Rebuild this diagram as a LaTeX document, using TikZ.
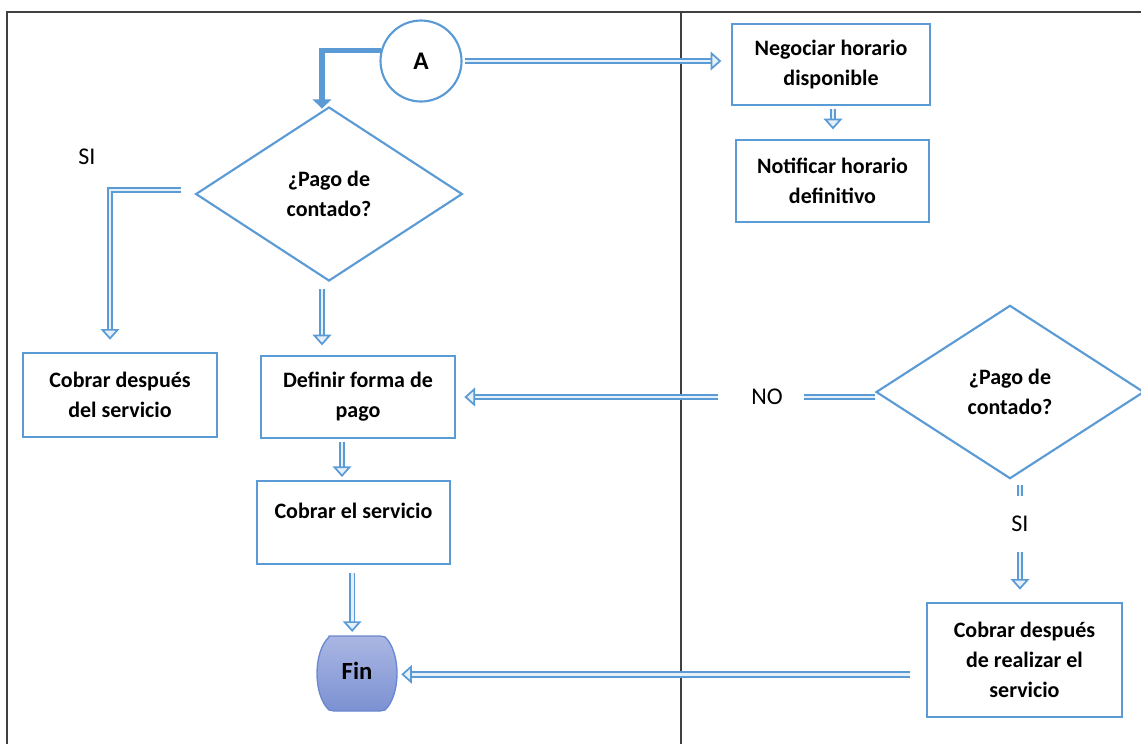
\documentclass[tikz,border=0pt]{standalone}
\usepackage{fontspec}
\setmainfont{Carlito}
\usetikzlibrary{arrows.meta,shapes.geometric}
\definecolor{lb}{HTML}{5B9BD5}
\definecolor{frame}{HTML}{404040}
\definecolor{fintop}{HTML}{AAB7E3}
\definecolor{finbot}{HTML}{7C91D3}
\definecolor{finedge}{HTML}{6A88D0}
\begin{document}
\begin{tikzpicture}[x=0.75pt,y=-0.75pt,
  every node/.style={font=\fontsize{16.5}{22.5}\selectfont},
  procbox/.style={draw=lb, line width=2pt, rectangle, align=center, font=\bfseries\fontsize{16.5}{22.5}\selectfont, inner sep=0pt},
  decis/.style={draw=lb, line width=1.6pt, diamond, align=center, inner sep=0pt, font=\bfseries\fontsize{16.5}{22.5}\selectfont},
  hollow/.style={draw=lb, line width=1.35pt, double=lb!15, double distance=2.1pt},
  harrow/.style={hollow, -{Triangle[length=8pt, width=14pt, fill=lb!15, line width=1.3pt]}},
  lbl/.style={font=\fontsize{18}{20}\selectfont, inner sep=1pt}
]
\useasboundingbox (0,0) rectangle (1141,744);
% frame
\draw[frame, line width=1.5pt] (7,744) -- (7,12) -- (1141,12);
\draw[frame, line width=1.1pt] (681,12) -- (681,744);

% nodes
\node[draw=lb, line width=1.6pt, circle, minimum size=60.75pt, inner sep=0pt, font=\bfseries\fontsize{19}{20}\selectfont] (A) at (421,61) {A};
\node[procbox, minimum width=148.5pt, minimum height=60.75pt] (neg) at (831,64.5) {Negociar horario\\disponible};
\node[procbox, minimum width=144.75pt, minimum height=61.5pt] (notif) at (832.5,181) {Notificar horario\\definitivo};
\node[decis, minimum width=200pt, minimum height=130.5pt] (d1) at (329,194) {¿Pago de\\contado?};
\node[procbox, minimum width=145.5pt, minimum height=63pt] (cdes) at (120,395) {Cobrar después\\del servicio};
\node[procbox, minimum width=145.5pt, minimum height=61.5pt] (def) at (358,397) {Definir forma de\\pago};
\node[procbox, minimum width=144.75pt, minimum height=62.25pt] (cob) at (353.5,522.5) {Cobrar el servicio\\[-11pt]\strut};
\node[decis, minimum width=201pt, minimum height=130pt] (d2) at (1010,392) {¿Pago de\\contado?};
\node[procbox, minimum width=146.25pt, minimum height=85.5pt] (cdr) at (1024.5,660) {Cobrar después\\de realizar el\\servicio};
% Fin terminal
\path[draw=finedge, line width=1pt, top color=fintop, bottom color=finbot]
  (329,636) .. controls (331,636) .. (334,636) -- (380,636) .. controls (383,636) .. (385,637)
  .. controls (401,652) and (401,695) .. (385,710) .. controls (383,711) .. (380,711)
  -- (334,711) .. controls (331,711) .. (329,710)
  .. controls (313,695) and (313,652) .. (329,637) -- cycle;
\node[minimum width=60pt, minimum height=56.25pt, inner sep=0pt, font=\bfseries\fontsize{18.5}{20}\selectfont] (fin) at (357,671) {Fin};

% labels
\node[lbl] (si1) at (87,157) {SI};
\node[lbl] (no) at (767,397) {NO};
\node[lbl] (si2) at (1020,524) {SI};
\coordinate (c1) at (181,190);

% connectors
\draw[lb, line width=4pt, -{Triangle[width=14pt,length=7pt]}] (A.165) -| ([xshift=-5.25pt,yshift=-2pt]d1.north);
\draw[harrow, shorten <=2pt, shorten >=7pt] (A.east) -- (A.east -| neg.west);
\draw[harrow, shorten <=2pt, shorten >=7pt] ([xshift=1.5pt]neg.south) -- ([xshift=1.5pt]neg.south |- notif.north);
\draw[harrow, shorten >=9pt] (c1) -| ([xshift=-7.5pt]cdes.north);
\draw[harrow, shorten <=5pt, shorten >=7pt] ([xshift=-5.25pt]d1.south) -- ([xshift=-5.25pt]d1.south |- def.north);
\draw[harrow, shorten <=2pt, shorten >=2pt] ([xshift=-12pt]def.south) -- ([xshift=-12pt]def.south |- cob.north);
\draw[harrow, shorten <=6pt, shorten >=1pt] ([xshift=-1pt]cob.south) -- ([xshift=-1pt]cob.south |- fin.north);
\draw[hollow, shorten >=15pt] (no.east -| d2.west) -- (no.east);
\draw[harrow, shorten <=24pt, shorten >=6pt] (no.west) -- (no.west -| def.east);
\draw[hollow, shorten <=4pt, shorten >=14pt] ([xshift=7.5pt]d2.south) -- ([xshift=7.5pt]d2.south |- si2.north);
\draw[harrow, shorten <=14pt, shorten >=9pt] (si2.south) -- (si2.south |- cdr.north);
\draw[harrow, shorten <=12pt, shorten >=3pt] ([yshift=-2.5pt]cdr.west |- fin.east) -- ([yshift=-2.5pt]fin.east);
\end{tikzpicture}
\end{document}
